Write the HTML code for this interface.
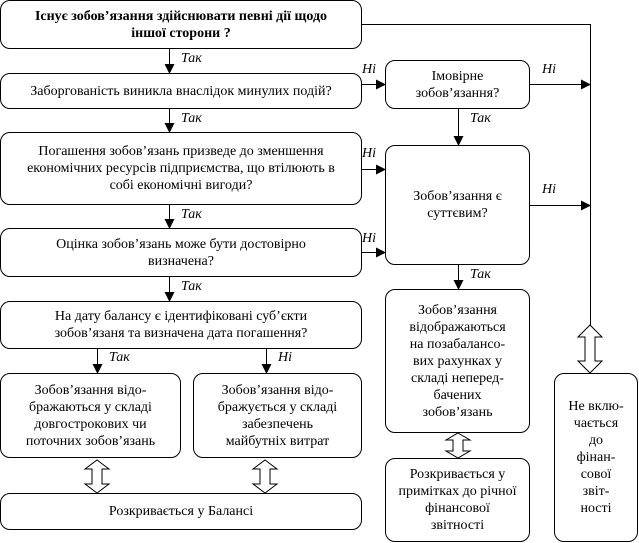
<!DOCTYPE html>
<html><head><meta charset="utf-8"><style>
body{margin:0;background:#fff;width:639px;height:543px;position:relative;overflow:hidden;font-family:"Liberation Serif","Times New Roman","DejaVu Serif",serif;font-size:14px;color:#000}
.b{position:absolute;box-sizing:border-box;border:1px solid #000;border-radius:10px;display:flex;align-items:center;justify-content:center;text-align:center;line-height:17px;background:#fff;font-family:"Liberation Serif","Times New Roman","DejaVu Serif",serif}
.l{position:absolute;font-style:italic;font-size:14px;font-family:"Liberation Serif","Times New Roman","DejaVu Serif",serif}
svg{position:absolute;left:0;top:0}
</style></head><body>
<svg width="639" height="543">
<defs><marker id="a" markerWidth="10" markerHeight="10" refX="9" refY="5" orient="auto" markerUnits="userSpaceOnUse"><path d="M0,0 L10,5 L0,10z" fill="#000"/></marker></defs>
<g stroke="#000" stroke-width="1" fill="none">
<polyline points="362,24.5 590.5,24.5 590.5,325"/>
<line x1="169.5" y1="49" x2="169.5" y2="73" marker-end="url(#a)"/>
<line x1="169.5" y1="109" x2="169.5" y2="132" marker-end="url(#a)"/>
<line x1="169.5" y1="205" x2="169.5" y2="228" marker-end="url(#a)"/>
<line x1="169.5" y1="277" x2="169.5" y2="301" marker-end="url(#a)"/>
<line x1="97.5" y1="349" x2="97.5" y2="373" marker-end="url(#a)"/>
<line x1="266.5" y1="349" x2="266.5" y2="373" marker-end="url(#a)"/>
<line x1="362" y1="84.5" x2="385" y2="84.5" marker-end="url(#a)"/>
<line x1="362" y1="169.5" x2="385" y2="169.5" marker-end="url(#a)"/>
<line x1="362" y1="252.5" x2="385" y2="252.5" marker-end="url(#a)"/>
<line x1="530" y1="84.5" x2="590" y2="84.5" marker-end="url(#a)"/>
<line x1="530" y1="205.5" x2="590" y2="205.5" marker-end="url(#a)"/>
<line x1="458.5" y1="109" x2="458.5" y2="145" marker-end="url(#a)"/>
<line x1="458.5" y1="265" x2="458.5" y2="289" marker-end="url(#a)"/>
<path d="M97,460 L109,469 L102,469 L102,484 L109,484 L97,493 L85,484 L92,484 L92,469 L85,469Z"/>
<path d="M265,460 L277,469 L270,469 L270,484 L277,484 L265,493 L253,484 L260,484 L260,469 L253,469Z"/>
<path d="M458,433 L470,440 L463,440 L463,451 L470,451 L458,458 L446,451 L453,451 L453,440 L446,440Z"/>
<path d="M590,325 L602,337 L595,337 L595,361 L602,361 L590,373 L578,361 L585,361 L585,337 L578,337Z"/>
</g></svg>
<div class="b" style="left:0;top:0;width:362px;height:49px;font-weight:bold">Існує зобов’язання здійснювати певні дії щодо<br>іншої сторони ?</div>
<div class="b" style="left:0;top:73px;width:362px;height:36px">Заборгованість виникла внаслідок минулих подій?</div>
<div class="b" style="left:385px;top:60px;width:145px;height:49px">Імовірне<br>зобов’язання?</div>
<div class="b" style="left:0;top:132px;width:362px;height:73px">Погашення зобов’язань призведе до зменшення<br>економічних ресурсів підприємства, що втілюють в<br>собі економічні вигоди?</div>
<div class="b" style="left:0;top:228px;width:362px;height:49px">Оцінка зобов’язань може бути достовірно<br>визначена?</div>
<div class="b" style="left:385px;top:145px;width:145px;height:120px">Зобов’язання є<br>суттєвим?</div>
<div class="b" style="left:0;top:301px;width:362px;height:48px">На дату балансу є ідентифіковані суб’єкти<br>зобов’язаня та визначена дата погашення?</div>
<div class="b" style="left:0;top:373px;width:181px;height:85px">Зобов’язання відо-<br>бражаються у складі<br>довгострокових чи<br>поточних зобов’язань</div>
<div class="b" style="left:193px;top:373px;width:169px;height:85px">Зобов’язання відо-<br>бражується у складі<br>забезпечень<br>майбутніх витрат</div>
<div class="b" style="left:0;top:493px;width:362px;height:37px">Розкривається у Балансі</div>
<div class="b" style="left:385px;top:289px;width:145px;height:144px">Зобов’язання<br>відображаються<br>на позабалансо-<br>вих рахунках у<br>складі неперед-<br>бачених<br>зобов’язань</div>
<div class="b" style="left:385px;top:458px;width:145px;height:84px">Розкривається у<br>примітках до річної<br>фінансової<br>звітності</div>
<div class="b" style="left:554px;top:373px;width:84px;height:169px">Не вклю-<br>чається<br>до<br>фінан-<br>сової<br>звіт-<br>ності</div>
<div class="l" style="left:181px;top:51px">Так</div>
<div class="l" style="left:181px;top:111px">Так</div>
<div class="l" style="left:181px;top:207px">Так</div>
<div class="l" style="left:181px;top:279px">Так</div>
<div class="l" style="left:109px;top:350px">Так</div>
<div class="l" style="left:278px;top:350px">Ні</div>
<div class="l" style="left:362px;top:62px">Ні</div>
<div class="l" style="left:362px;top:146px">Ні</div>
<div class="l" style="left:362px;top:231px">Ні</div>
<div class="l" style="left:542px;top:62px">Ні</div>
<div class="l" style="left:542px;top:182px">Ні</div>
<div class="l" style="left:470px;top:111px">Так</div>
<div class="l" style="left:470px;top:267px">Так</div>
</body></html>
